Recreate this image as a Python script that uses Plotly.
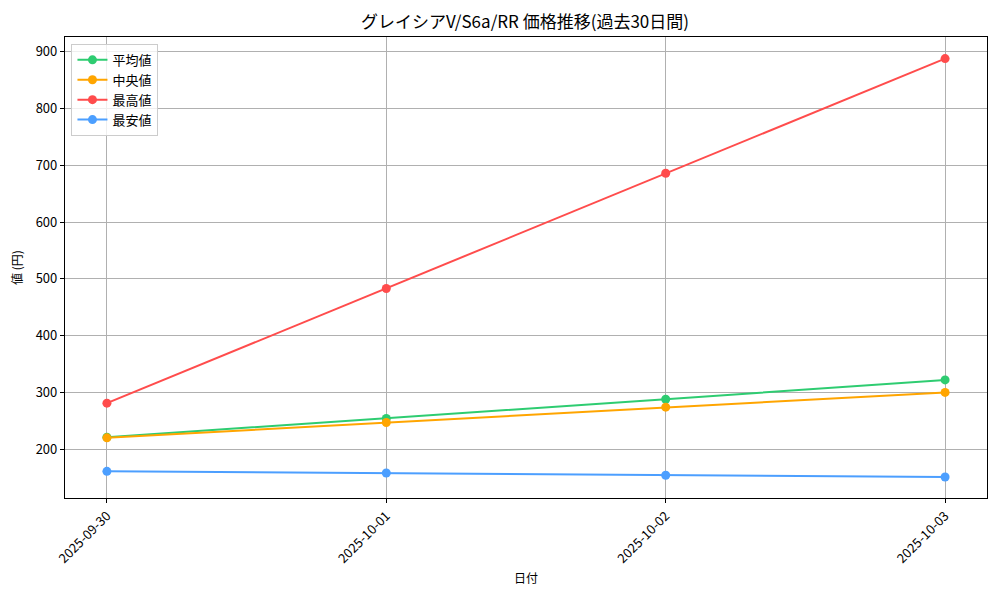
import plotly.graph_objects as go

dates = ["2025-09-30", "2025-10-01", "2025-10-02", "2025-10-03"]
avg_price = [221, 254, 288, 322]
median_price = [220, 247, 274, 300]
max_price = [281, 483, 686, 888]
min_price = [161, 158, 154, 151]

series = [
    ("平均値", avg_price, "#2ecc71"),
    ("中央値", median_price, "#ffa500"),
    ("最高値", max_price, "#ff4c4c"),
    ("最安値", min_price, "#4c9fff"),
]

FONT = "Noto Sans CJK JP"


def main():
    fig = go.Figure()

    for name, vals, color in series:
        fig.add_trace(go.Scatter(
            x=dates,
            y=vals,
            mode="lines+markers",
            name=name,
            line=dict(color=color, width=2),
            marker=dict(color=color, size=9),
        ))

    axis_common = dict(
        showline=True,
        linecolor="black",
        linewidth=1.2,
        mirror=True,
        ticks="outside",
        ticklen=4,
        tickcolor="black",
        showgrid=True,
        gridcolor="#b0b0b0",
        gridwidth=1,
        zeroline=False,
        automargin=False,
        tickfont=dict(size=13, color="black"),
    )

    fig.update_layout(
        width=1000,
        height=600,
        paper_bgcolor="white",
        plot_bgcolor="white",
        font=dict(family=FONT, color="black"),
        title=dict(
            text="グレイシアV/S6a/RR 価格推移(過去30日間)",
            x=0.517,
            xanchor="center",
            y=0.977,
            yanchor="middle",
            font=dict(size=17),
        ),
        margin=dict(l=57, r=21, t=29, b=110),
        xaxis=dict(
            type="category",
            range=[-0.15, 3.15],
            tickangle=-45,
            title=dict(text="日付", font=dict(size=12), standoff=8),
            **axis_common,
        ),
        yaxis=dict(
            range=[114, 926],
            tickvals=[200, 300, 400, 500, 600, 700, 800, 900],
            title=dict(text="値 (円)", font=dict(size=12), standoff=10),
            **axis_common,
        ),
        legend=dict(
            x=0.007,
            y=0.985,
            xanchor="left",
            yanchor="top",
            bgcolor="rgba(255,255,255,0.8)",
            bordercolor="#cccccc",
            borderwidth=1,
            font=dict(size=13),
            tracegroupgap=0,
        ),
        showlegend=True,
    )

    fig.write_html("out.html")


if __name__ == "__main__":
    main()
